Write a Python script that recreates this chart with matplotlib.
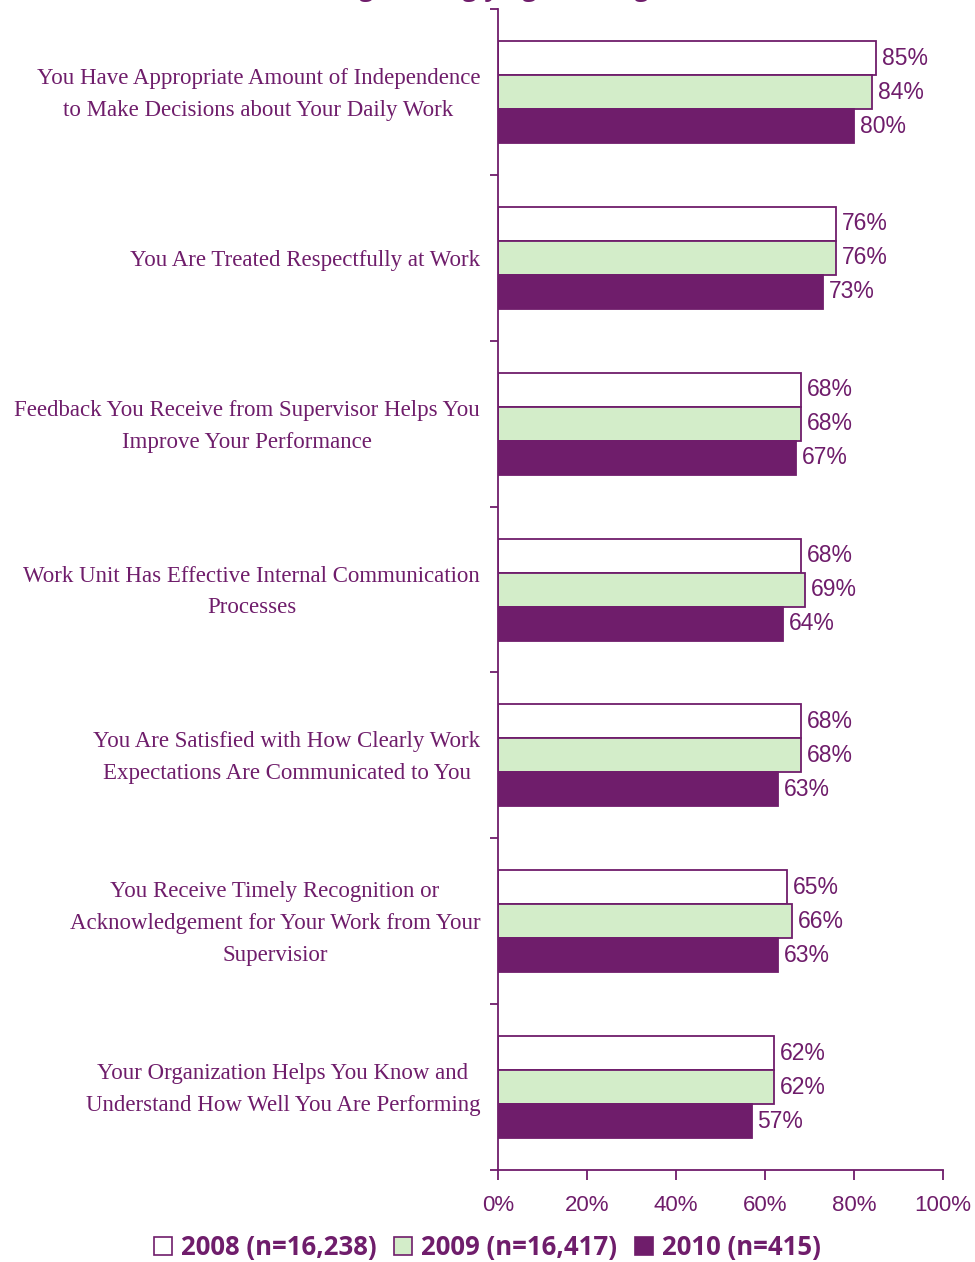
import matplotlib.pyplot as plt
from matplotlib.patches import Patch
import numpy as np

# Survey items and share of staff agreeing, per survey year
items = [
    "You Have Appropriate Amount of Independence\nto Make Decisions about Your Daily Work",
    "You Are Treated Respectfully at Work",
    "Feedback You Receive from Supervisor Helps You\nImprove Your Performance",
    "Work Unit Has Effective Internal Communication\nProcesses",
    "You Are Satisfied with How Clearly Work\nExpectations Are Communicated to You",
    "You Receive Timely Recognition or\nAcknowledgement for Your Work from Your\nSupervisior",
    "Your Organization Helps You Know and\nUnderstand How Well You Are Performing",
]
pct_2008 = [85, 76, 68, 68, 68, 65, 62]
pct_2009 = [84, 76, 68, 69, 68, 66, 62]
pct_2010 = [80, 73, 67, 64, 63, 63, 57]
series_names = ["2008 (n=16,238)", "2009 (n=16,417)", "2010 (n=415)"]
x_ticks = [0, 20, 40, 60, 80, 100]

purple = "#6f1d6b"
green = "#d3edc9"

fig = plt.figure(figsize=(9.75, 12.62), dpi=100)
ax = fig.add_axes([0.5108, 0.0729, 0.4564, 0.9199])

y = np.arange(len(items))
h = 0.205
series = [(pct_2008, "white", -h), (pct_2009, green, 0), (pct_2010, purple, h)]
for vals, col, off in series:
    ax.barh(y + off, vals, height=h, color=col, edgecolor=purple, linewidth=1.3)
    for yi, v in zip(y, vals):
        ax.text(v + 1.3, yi + off, f"{v}%", va="center", ha="left",
                fontsize=16.5, color=purple, family="Liberation Sans")

ax.set_xlim(0, 100)
ax.set_ylim(len(items) - 0.5, -0.5)
ax.set_xticks(x_ticks)
ax.set_xticklabels([f"{t}%" for t in x_ticks], fontsize=16, color=purple,
                   family="Liberation Sans")
ax.tick_params(axis="x", length=7, width=1.3, color=purple, pad=11)

# category names drawn as text so multi-line blocks centre on the group
ax.set_yticks(np.arange(-0.5, len(items)))
ax.set_yticklabels([])
ax.tick_params(axis="y", length=6, width=1.3, color=purple)
trans = ax.get_yaxis_transform()
for yi, lab in zip(y, items):
    ax.text(-0.04, yi + 0.015, lab, transform=trans, ha="right", va="center",
            multialignment="center", fontsize=16.5, color=purple,
            family="Liberation Serif", linespacing=1.68)

for s in ["top", "right"]:
    ax.spines[s].set_visible(False)
for s in ["left", "bottom"]:
    ax.spines[s].set_color(purple)
    ax.spines[s].set_linewidth(1.3)

# heading sits mostly above the visible area
fig.text(0.48, 1.0 + 4 / 1262, "(Percentage Strongly Agree or Agree)",
         ha="center", va="baseline", fontsize=18, fontweight="bold",
         color=purple, family="Open Sans")

handles = [Patch(facecolor="white", edgecolor=purple, linewidth=1.2),
           Patch(facecolor=green, edgecolor=purple, linewidth=1.2),
           Patch(facecolor=purple, edgecolor=purple, linewidth=1.2)]
leg = fig.legend(handles, series_names, loc="center", bbox_to_anchor=(0.5, 0.0115),
                 ncol=3, frameon=False, handlelength=0.7, handleheight=0.7,
                 handletextpad=0.35, columnspacing=0.7,
                 prop={"family": "Open Sans", "weight": "bold", "size": 18.5})
for t in leg.get_texts():
    t.set_color(purple)

fig.savefig("out.png", dpi=100)
